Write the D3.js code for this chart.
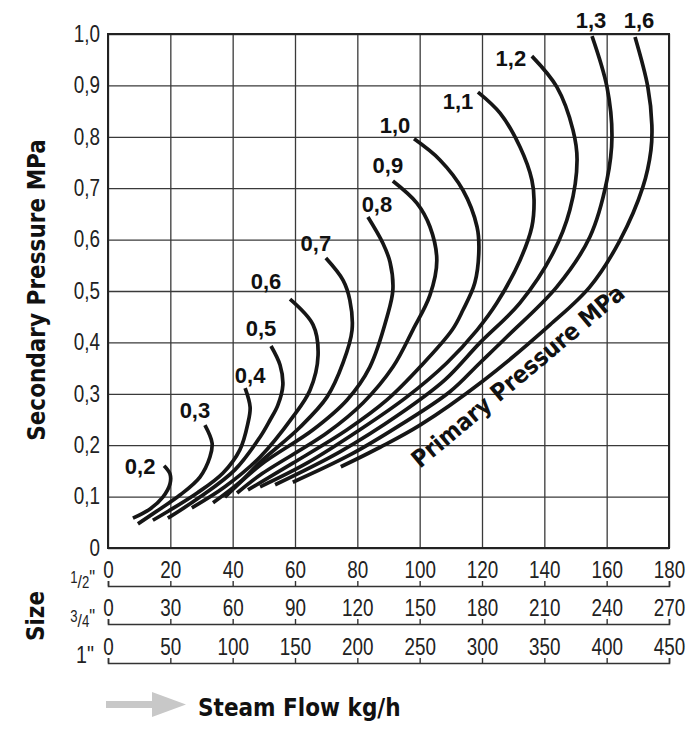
<!DOCTYPE html>
<html>
<head>
<meta charset="utf-8">
<script src="https://cdn.jsdelivr.net/npm/d3@7"></script>
<style>
  body { margin: 0; background: #fff; }
  svg { display: block; }
  .tick text { font-family: "Liberation Sans", Arial, sans-serif; font-size: 23px; fill: #222; }
  .title { font-family: "DejaVu Sans Condensed", "DejaVu Sans", sans-serif; font-weight: bold; font-size: 24px; fill: #111; }
  .curve-label { font-family: "Liberation Sans", Arial, sans-serif; font-weight: bold; font-size: 22px; fill: #111; }
  .size-label { font-family: "Liberation Sans", Arial, sans-serif; fill: #222; }
</style>
</head>
<body>
<div id="chart"></div>
<script>
// setting up SVG
var svgWidth = 700;
var svgHeight = 733;

// plot frame (pixels)
var plot = { left: 108, right: 669, top: 34, bottom: 548 };
var plotWidth = plot.right - plot.left;
var plotHeight = plot.bottom - plot.top;

// horizontal squeeze to imitate the condensed face of the original
var narrow = 0.82;

// primary pressure of each curve (MPa)
var primaryLabels = ["0,2", "0,3", "0,4", "0,5", "0,6", "0,7", "0,8", "0,9", "1,0", "1,1", "1,2", "1,3", "1,6"];

// [steam flow kg/h on the 1/2" scale, secondary pressure MPa]
var curve02 = [[8.0, 0.058], [13.5, 0.076], [17.6, 0.099], [19.9, 0.125], [19.9, 0.144], [18.0, 0.160]];
var curve03 = [[9.6, 0.047], [16.7, 0.076], [23.1, 0.103], [29.5, 0.138], [32.7, 0.177], [33.4, 0.204], [31.1, 0.239]];
var curve04 = [[14.4, 0.054], [18.9, 0.070], [28.6, 0.107], [36.9, 0.146], [42.3, 0.191], [44.9, 0.243], [45.6, 0.274], [44.0, 0.311]];
var curve05 = [[19.2, 0.058], [29.5, 0.099], [40.7, 0.152], [48.8, 0.216], [52.0, 0.249], [54.5, 0.278], [56.1, 0.317], [55.2, 0.356], [52.3, 0.393]];
var curve06 = [[26.9, 0.078], [37.5, 0.119], [48.8, 0.177], [59.3, 0.255], [64.8, 0.307], [67.4, 0.375], [65.8, 0.434], [58.4, 0.484]];
var curve07 = [[33.7, 0.088], [42.3, 0.128], [48.8, 0.167], [61.6, 0.235], [70.3, 0.294], [75.4, 0.360], [78.3, 0.424], [77.6, 0.482], [75.4, 0.521], [69.9, 0.564]];
var curve08 = [[37.5, 0.099], [48.8, 0.161], [65.8, 0.230], [76.7, 0.288], [84.0, 0.352], [89.5, 0.449], [91.4, 0.502], [90.5, 0.556], [88.2, 0.593], [83.4, 0.644]];
var curve09 = [[41.4, 0.107], [48.8, 0.142], [70.3, 0.224], [81.8, 0.282], [91.4, 0.352], [97.8, 0.424], [103.3, 0.492], [105.5, 0.560], [103.3, 0.625], [99.1, 0.671], [91.4, 0.714]];
var curve10 = [[44.9, 0.113], [59.3, 0.165], [76.7, 0.230], [89.5, 0.288], [100.1, 0.352], [110.4, 0.424], [113.9, 0.463], [117.7, 0.516], [119.0, 0.580], [118.4, 0.625], [113.9, 0.696], [106.5, 0.755], [98.2, 0.796]];
var curve11 = [[48.8, 0.119], [63.8, 0.165], [80.8, 0.230], [95.9, 0.294], [108.7, 0.360], [118.4, 0.424], [124.8, 0.477], [132.2, 0.560], [136.0, 0.625], [136.7, 0.677], [136.0, 0.716], [132.2, 0.780], [125.8, 0.846], [118.7, 0.887]];
var curve12 = [[53.6, 0.123], [74.4, 0.187], [93.7, 0.261], [108.1, 0.327], [119.3, 0.399], [132.2, 0.477], [142.8, 0.574], [148.2, 0.658], [150.5, 0.755], [149.2, 0.813], [144.0, 0.897], [136.0, 0.957]];
var curve13 = [[59.3, 0.128], [77.6, 0.181], [93.7, 0.239], [109.7, 0.304], [119.3, 0.360], [128.0, 0.411], [144.0, 0.508], [154.6, 0.605], [160.1, 0.716], [161.7, 0.800], [160.1, 0.897], [155.3, 0.996]];
var curve16 = [[74.7, 0.158], [87.3, 0.196], [100.1, 0.239], [120.3, 0.325], [141.8, 0.434], [154.6, 0.508], [164.3, 0.599], [171.6, 0.702], [174.2, 0.774], [174.5, 0.823], [173.2, 0.897], [169.1, 0.994]];

var curves = [curve02, curve03, curve04, curve05, curve06, curve07, curve08, curve09, curve10, curve11, curve12, curve13, curve16];

// tick values
var secondaryTicks = [0, 0.1, 0.2, 0.3, 0.4, 0.5, 0.6, 0.7, 0.8, 0.9, 1.0];
var flowHalfInch = [0, 20, 40, 60, 80, 100, 120, 140, 160, 180];
var flowThreeQuarterInch = [0, 30, 60, 90, 120, 150, 180, 210, 240, 270];
var flowOneInch = [0, 50, 100, 150, 200, 250, 300, 350, 400, 450];

// label placement relative to the top end of each curve (pixels)
var labelOffsets = [[-24, 0], [-10, -15], [5, -13], [-10, -18], [-24, -18], [-10, -15], [9, -13], [-5, -16], [-19, -14], [-20, 9], [-21, 2], [-1, -16], [4, -17]];

var svg = d3.select("#chart")
  .append("svg")
  .attr("width", svgWidth)
  .attr("height", svgHeight);

svg.append("rect").attr("width", svgWidth).attr("height", svgHeight).attr("fill", "#fff");

// scales
var xScale = d3.scaleLinear().domain([0, 180]).range([plot.left, plot.right]);
var yScale = d3.scaleLinear().domain([0, 1]).range([plot.bottom, plot.top]);

// squeeze tick text horizontally around its own anchor
function condense(sel) {
  sel.each(function() {
    var t = d3.select(this);
    var x = +(t.attr("x") || 0);
    t.attr("x", x / narrow).attr("transform", `scale(${narrow}, 1)`);
  });
}

// grid
svg.append("g")
  .attr("class", "grid")
  .attr("transform", `translate(0, ${plot.bottom})`)
  .call(d3.axisBottom(xScale).tickValues(flowHalfInch).tickSize(-plotHeight).tickFormat(""));
svg.append("g")
  .attr("class", "grid")
  .attr("transform", `translate(${plot.left}, 0)`)
  .call(d3.axisLeft(yScale).tickValues(secondaryTicks).tickSize(-plotWidth).tickFormat(""));
svg.selectAll(".grid .domain").remove();
svg.selectAll(".grid .tick line").attr("stroke", "#3a3a3a").attr("stroke-width", 1.3);

// frame
svg.append("rect")
  .attr("x", plot.left)
  .attr("y", plot.top)
  .attr("width", plotWidth)
  .attr("height", plotHeight)
  .attr("fill", "none")
  .attr("stroke", "#222")
  .attr("stroke-width", 2);

// y tick labels
var yAxis = svg.append("g")
  .attr("transform", `translate(${plot.left}, 0)`)
  .call(d3.axisLeft(yScale)
    .tickValues(secondaryTicks)
    .tickSize(0)
    .tickPadding(8)
    .tickFormat(d => d === 0 ? "0" : d3.format(".1f")(d).replace(".", ",")));
yAxis.select(".domain").remove();
yAxis.selectAll(".tick text").call(condense);

// curves
var line = d3.line()
  .x(d => xScale(d[0]))
  .y(d => yScale(d[1]))
  .curve(d3.curveCatmullRom.alpha(0.5));

svg.append("g")
  .selectAll("path")
  .data(curves)
  .enter()
  .append("path")
  .attr("d", line)
  .attr("fill", "none")
  .attr("stroke", "#161616")
  .attr("stroke-width", 3.7);

// curve labels at the top end of each curve
svg.append("g")
  .selectAll("text")
  .data(curves)
  .enter()
  .append("text")
  .attr("class", "curve-label")
  .attr("x", (d, i) => xScale(d[d.length - 1][0]) + labelOffsets[i][0])
  .attr("y", (d, i) => yScale(d[d.length - 1][1]) + labelOffsets[i][1])
  .attr("dy", "0.36em")
  .attr("text-anchor", "middle")
  .text((d, i) => primaryLabels[i]);

// flow scales for the three valve sizes
var sizeAxes = [
  { domain: 180, ticks: flowHalfInch, y: 586 },
  { domain: 270, ticks: flowThreeQuarterInch, y: 624 },
  { domain: 450, ticks: flowOneInch, y: 663 }
];
sizeAxes.forEach(function(a) {
  var s = d3.scaleLinear().domain([0, a.domain]).range([plot.left, plot.right]);
  var g = svg.append("g")
    .attr("transform", `translate(0, ${a.y})`)
    .call(d3.axisTop(s).tickValues(a.ticks).tickSize(5).tickSizeOuter(5).tickPadding(3));
  g.select(".domain").attr("stroke", "#333").attr("stroke-width", 1.6);
  g.selectAll(".tick line").attr("stroke", "#333").attr("stroke-width", 1.4);
  g.selectAll(".tick text").call(condense);
});

// size names (fractions)
function fraction(y, num, den) {
  var t = svg.append("text")
    .attr("class", "size-label")
    .attr("x", 95 / narrow)
    .attr("y", y)
    .attr("transform", `scale(${narrow}, 1)`)
    .attr("text-anchor", "end");
  t.append("tspan").attr("font-size", 16).attr("dy", -5).text(num);
  t.append("tspan").attr("font-size", 19).attr("dy", 5).text("/");
  t.append("tspan").attr("font-size", 16).text(den);
  t.append("tspan").attr("font-size", 20).attr("dy", -4).text("\"");
}
fraction(588, "1", "2");
fraction(627, "3", "4");
svg.append("text")
  .attr("class", "size-label")
  .attr("x", 94 / narrow)
  .attr("y", 663)
  .attr("transform", `scale(${narrow}, 1)`)
  .attr("text-anchor", "end")
  .attr("font-size", 24)
  .text("1\"");

// axis titles
svg.append("text")
  .attr("class", "title")
  .attr("transform", "translate(45, 290) rotate(-90)")
  .attr("text-anchor", "middle")
  .text("Secondary Pressure MPa");

svg.append("text")
  .attr("class", "title")
  .attr("transform", "translate(44, 616) rotate(-90)")
  .attr("text-anchor", "middle")
  .text("Size");

svg.append("text")
  .attr("class", "title")
  .attr("font-size", 23)
  .attr("transform", "translate(420, 469) rotate(-40)")
  .text("Primary Pressure MPa");

// steam flow arrow
svg.append("rect")
  .attr("x", 106).attr("y", 701)
  .attr("width", 48).attr("height", 7)
  .attr("fill", "#c8c8c8");
svg.append("path")
  .attr("d", "M152,692 L186,704.5 L152,717 Z")
  .attr("fill", "#c8c8c8");

svg.append("text")
  .attr("class", "title")
  .attr("x", 198)
  .attr("y", 716)
  .text("Steam Flow kg/h");
</script>
</body>
</html>
